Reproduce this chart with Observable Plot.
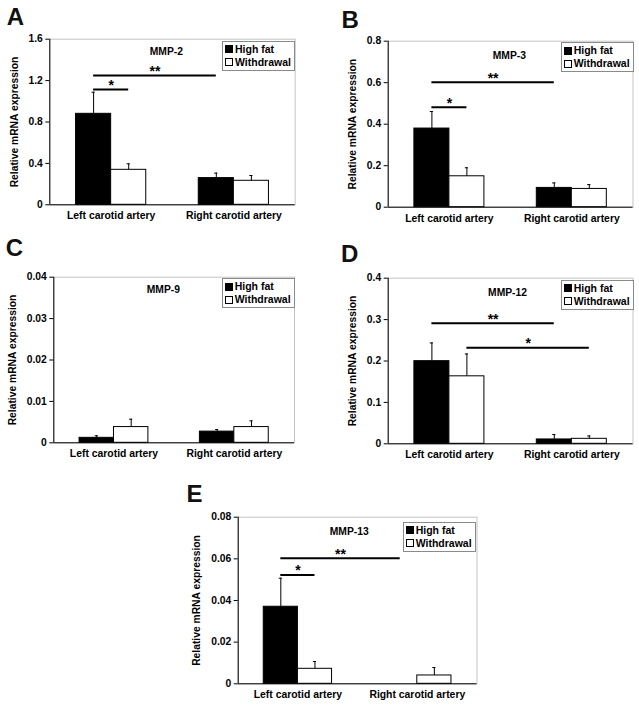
<!DOCTYPE html>
<html><head><meta charset="utf-8">
<script src="https://cdn.jsdelivr.net/npm/d3@7"></script>
<script src="https://cdn.jsdelivr.net/npm/@observablehq/plot@0.6"></script>
<style>
body{margin:0;background:#fff;font-family:"Liberation Sans",Arial,sans-serif;}
#root{position:relative;width:639px;height:707px;overflow:hidden;background:#fff;}
.panel{position:absolute;}
.panel svg{display:block;overflow:visible;}
.letter{position:absolute;font-size:24px;font-weight:bold;line-height:24px;color:#111;}
.legend{position:absolute;border:1px solid #8a8a8a;background:#fff;font-size:10.5px;font-weight:bold;padding:1px 3px 1px 2px;line-height:13px;white-space:nowrap;color:#000;}
.sw{display:inline-block;width:8px;height:8px;border:1px solid #000;margin-right:2px;box-sizing:border-box;vertical-align:-0.5px;}
</style></head><body><div id="root"></div>
<script>
// ---- data ----
const letters = ["A", "B", "C", "D", "E"];
const genes = ["MMP-2", "MMP-3", "MMP-9", "MMP-12", "MMP-13"];
const sites = ["Left carotid artery", "Right carotid artery"];
const series = ["High fat", "Withdrawal"];
// values [panel][site]
const highFat = [[0.879, 0.258], [0.379, 0.093], [0.0012, 0.0027], [0.1996, 0.0105], [0.037, 0]];
const highFatErr = [[0.209, 0.048], [0.082, 0.024], [0.0005, 0.0005], [0.044, 0.012], [0.0137, 0]];
const withdrawal = [[0.338, 0.232], [0.149, 0.088], [0.0038, 0.0038], [0.163, 0.012], [0.0072, 0.004]];
const withdrawalErr = [[0.058, 0.051], [0.041, 0.021], [0.0019, 0.0015], [0.054, 0.007], [0.0035, 0.0038]];
const yMax = [1.6, 0.8, 0.04, 0.4, 0.08];
const yTicks = [[0, 0.4, 0.8, 1.2, 1.6], [0, 0.2, 0.4, 0.6, 0.8], [0, 0.01, 0.02, 0.03, 0.04], [0, 0.1, 0.2, 0.3, 0.4], [0, 0.02, 0.04, 0.06, 0.08]];
const yTickLabels = [["0", "0.4", "0.8", "1.2", "1.6"], ["0", "0.2", "0.4", "0.6", "0.8"], ["0", "0.01", "0.02", "0.03", "0.04"], ["0", "0.1", "0.2", "0.3", "0.4"], ["0", "0.02", "0.04", "0.06", "0.08"]];
// significance brackets: [panel, fromSite, fromSeries, toSite, toSeries, y, label]
const sigLines = [
  [0, 0, 0, 0, 1, 1.114, "*"], [0, 0, 0, 1, 0, 1.249, "**"],
  [1, 0, 0, 0, 1, 0.482, "*"], [1, 0, 0, 1, 0, 0.602, "**"],
  [3, 0, 0, 1, 0, 0.291, "**"], [3, 0, 1, 1, 1, 0.232, "*"],
  [4, 0, 0, 0, 1, 0.0523, "*"], [4, 0, 0, 1, 0, 0.0603, "**"]
];

// ---- layout / style ----
const seriesFill = ["#000", "#fff"];
const barW = 0.286;      // bar width in group units
const capHalf = 0.013;   // half width of error cap
const layout = [
  {left: 0,   top: 0,   w: 300, h: 232, ml: 49.3, mt: 38.7, mr: 5.3,  mb: 27.7, lo: 39, tx: 0.95, ty: 8,  lg: [222, 40.5], lt: [6.7, 4.7]},
  {left: 320, top: 0,   w: 319, h: 233, ml: 67.7, mt: 40.7, mr: 6.5,  mb: 26.3, lo: 40, tx: 0.99, ty: 10, lg: [560.7, 42], lt: [341.5, 8]},
  {left: 0,   top: 230, w: 300, h: 240, ml: 53.3, mt: 46.7, mr: 6,    mb: 27.7, lo: 45, tx: 0.91, ty: 8.5, lg: [221.7, 278.3], lt: [5.7, 236.4]},
  {left: 320, top: 230, w: 319, h: 240, ml: 67.7, mt: 47.7, mr: 6.5,  mb: 26.7, lo: 40, tx: 0.975, ty: 10.5, lg: [560.7, 279.5], lt: [341, 242]},
  {left: 160, top: 470, w: 330, h: 237, ml: 77.7, mt: 46.7, mr: 13.5, mb: 23.7, lo: 46, tx: 0.93, ty: 10.5, lg: [402.7, 521.7], lt: [186.5, 482]}
];
const FONT = '"Liberation Sans", Arial, sans-serif';
const root = document.getElementById("root");
const barX1 = (site, s) => site + 0.5 - (s === 0 ? barW : 0);
const barXc = (site, s) => barX1(site, s) + barW / 2;

genes.forEach((gene, p) => {
  const L = layout[p];
  const bars = [];
  sites.forEach((site, i) => {
    [highFat, withdrawal].forEach((arr, s) => {
      const v = arr[p][i];
      const e = (s === 0 ? highFatErr : withdrawalErr)[p][i];
      bars.push({site: i, s, value: v, top: v + e, x1: barX1(i, s), x2: barX1(i, s) + barW, xc: barXc(i, s)});
    });
  });
  const errs = bars.filter(d => d.top > d.value);
  const sigs = sigLines.filter(d => d[0] === p).map(d => ({
    xa: barXc(d[1], d[2]), xb: barXc(d[3], d[4]), y: d[5], label: d[6]
  }));
  const chart = Plot.plot({
    width: L.w, height: L.h,
    marginLeft: L.ml, marginTop: L.mt, marginRight: L.mr, marginBottom: L.mb,
    style: {fontFamily: FONT, fontSize: "10px", fontWeight: "bold", background: "transparent", color: "#000"},
    x: {domain: [0, 2], axis: null},
    y: {domain: [0, yMax[p]], axis: null},
    marks: [
      Plot.frame({stroke: "#c4c4c4", strokeWidth: 1}),
      Plot.rectY(bars, {x1: "x1", x2: "x2", y1: 0, y2: "value", fill: d => seriesFill[d.s], stroke: "#000", strokeWidth: 1}),
      Plot.ruleX(errs, {x: "xc", y1: "value", y2: "top", stroke: "#000", strokeWidth: 1}),
      Plot.ruleY(errs, {x1: d => d.xc - capHalf, x2: d => d.xc + capHalf, y: "top", stroke: "#000", strokeWidth: 1}),
      Plot.ruleY(sigs, {x1: "xa", x2: "xb", y: "y", stroke: "#000", strokeWidth: 2}),
      Plot.text(sigs, {x: d => (d.xa + d.xb) / 2, y: "y", text: "label", dy: -4, fontSize: 14, fontWeight: "bold"}),
      Plot.text([gene], {x: () => L.tx, frameAnchor: "top", dy: L.ty, text: d => d, fontSize: 10.3, fontWeight: "bold"}),
      Plot.axisY({ticks: yTicks[p], tickFormat: (d, i) => yTickLabels[p][yTicks[p].indexOf(d)], tickSize: 4, tickPadding: 3,
        label: "Relative mRNA expression", labelAnchor: "center", labelOffset: L.lo, labelArrow: "none", fontSize: 10.3}),
      Plot.axisX({ticks: [0.5, 1.5], tickFormat: d => sites[Math.round(d - 0.5)], tickSize: 0, tickPadding: 7, label: null, fontSize: 10.4}),
      Plot.ruleX([0], {stroke: "#000", strokeWidth: 1}),
      Plot.ruleY([0], {stroke: "#000", strokeWidth: 1})
    ]
  });
  const div = document.createElement("div");
  div.className = "panel";
  div.style.left = L.left + "px";
  div.style.top = L.top + "px";
  div.appendChild(chart);
  root.appendChild(div);

  const letter = document.createElement("div");
  letter.className = "letter";
  letter.style.left = L.lt[0] + "px";
  letter.style.top = L.lt[1] + "px";
  letter.textContent = letters[p];
  root.appendChild(letter);

  const lg = document.createElement("div");
  lg.className = "legend";
  lg.style.left = L.lg[0] + "px";
  lg.style.top = L.lg[1] + "px";
  lg.innerHTML = series.map((s, i) => `<div><span class="sw" style="background:${seriesFill[i]}"></span>${s}</div>`).join("");
  root.appendChild(lg);
});
</script>
</body></html>
